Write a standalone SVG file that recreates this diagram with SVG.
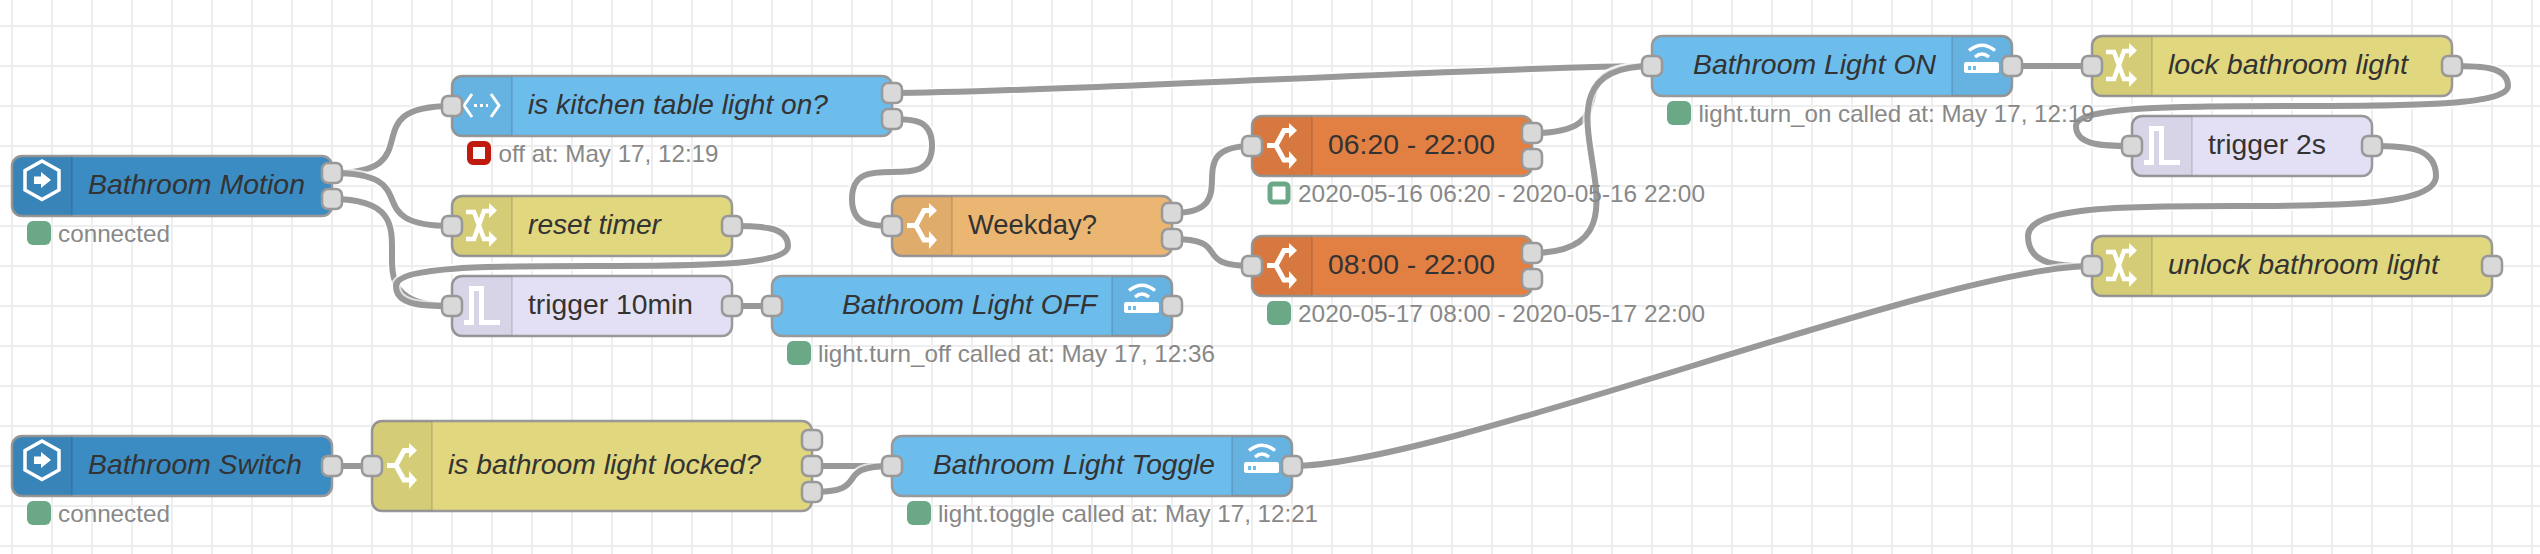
<svg xmlns="http://www.w3.org/2000/svg" width="2540" height="554" viewBox="0 0 2540 554">
<style>
.grid line{stroke:#eeeeee;stroke-width:2}
.o{fill:none;stroke:#fff;stroke-width:10;stroke-opacity:.7}
.l{fill:none;stroke:#999;stroke-width:6}
.n{stroke:#999;stroke-width:2.5}
.p{fill:#d9d9d9;stroke:#999;stroke-width:2.5}
.shade{fill:#000;fill-opacity:.05}
.sep{stroke:#000;stroke-opacity:.1;stroke-width:2}
.t{font-family:"Liberation Sans",Arial,sans-serif;font-size:28px;fill:#333}
.i{font-style:italic}
.s{font-family:"Liberation Sans",Arial,sans-serif;font-size:24px;fill:#888}
.ok{fill:#6aa888}
.ring{fill:#fff;stroke:#6aa888;stroke-width:5}
.red{fill:#fff;stroke:#c0190f;stroke-width:6}
.w{fill:none;stroke:#fff}
.f{fill:#fff}
.c1{fill:#3b8cc3}.c2{fill:#6cbcec}.c3{fill:#e0d77e}.c4{fill:#e3e0f5}.c5{fill:#ebb672}.c6{fill:#e27f43}
</style>
<defs>
<path id="shL" class="shade" d="M10 0H60V60H10Q0 60 0 50V10Q0 0 10 0Z"/>
<path id="shL90" class="shade" d="M10 0H60V90H10Q0 90 0 80V10Q0 0 10 0Z"/>
<g id="icHex"><path class="w" stroke-width="3.5" d="M30 5L47 14.500V34L30 43.500L13 34V14.500Z"/><path class="f" d="M22 20.500H29V16L39 24L29 32V28H22Z"/></g>
<g id="icApi"><path class="w" stroke-width="3" d="M20 18L12 29.500L20 41M39 18L47 29.500L39 41"/><path class="w" stroke-width="3" stroke-dasharray="3 3" d="M22 29.500H36"/></g>
<g id="icChange"><path class="w" stroke-width="4.500" d="M14 16H22L32 43H39M39 15H32L22 43H14"/><path class="f" d="M37 7L45 14.500L37 22ZM37 35L45 43L37 51Z"/></g>
<g id="icTrigger"><path class="w" stroke-width="5" d="M12 46.500H19.500V12.500H29.500V46.500H48"/></g>
<g id="icSwitch"><path class="w" stroke-width="5" d="M15 29.500H24L32 14.500H39M24 29.500L32 44H39"/><path class="f" d="M37 7L45 14.500L37 22ZM37 35L45 44L37 53Z"/></g>
<g id="icRouter"><path class="w" stroke-width="3.500" d="M19 14.500Q32 4 45 14.500M25 21Q32 15 39 21"/><path class="f" d="M16 26H47Q49 26 49 28V35Q49 37 47 37H16Q14 37 14 35V28Q14 26 16 26Z"/><path fill="#6cbcec" d="M18 30h3v4h-3zM23 30h3v4h-3z"/></g>
</defs>
<rect width="2540" height="554" fill="#fff"/>
<g class="grid">
<line x1="12" y1="0" x2="12" y2="554"/><line x1="52" y1="0" x2="52" y2="554"/><line x1="92" y1="0" x2="92" y2="554"/><line x1="132" y1="0" x2="132" y2="554"/><line x1="172" y1="0" x2="172" y2="554"/><line x1="212" y1="0" x2="212" y2="554"/><line x1="252" y1="0" x2="252" y2="554"/><line x1="292" y1="0" x2="292" y2="554"/><line x1="332" y1="0" x2="332" y2="554"/><line x1="372" y1="0" x2="372" y2="554"/><line x1="412" y1="0" x2="412" y2="554"/><line x1="452" y1="0" x2="452" y2="554"/><line x1="492" y1="0" x2="492" y2="554"/><line x1="532" y1="0" x2="532" y2="554"/><line x1="572" y1="0" x2="572" y2="554"/><line x1="612" y1="0" x2="612" y2="554"/><line x1="652" y1="0" x2="652" y2="554"/><line x1="692" y1="0" x2="692" y2="554"/><line x1="732" y1="0" x2="732" y2="554"/><line x1="772" y1="0" x2="772" y2="554"/><line x1="812" y1="0" x2="812" y2="554"/><line x1="852" y1="0" x2="852" y2="554"/><line x1="892" y1="0" x2="892" y2="554"/><line x1="932" y1="0" x2="932" y2="554"/><line x1="972" y1="0" x2="972" y2="554"/><line x1="1012" y1="0" x2="1012" y2="554"/><line x1="1052" y1="0" x2="1052" y2="554"/><line x1="1092" y1="0" x2="1092" y2="554"/><line x1="1132" y1="0" x2="1132" y2="554"/><line x1="1172" y1="0" x2="1172" y2="554"/><line x1="1212" y1="0" x2="1212" y2="554"/><line x1="1252" y1="0" x2="1252" y2="554"/><line x1="1292" y1="0" x2="1292" y2="554"/><line x1="1332" y1="0" x2="1332" y2="554"/><line x1="1372" y1="0" x2="1372" y2="554"/><line x1="1412" y1="0" x2="1412" y2="554"/><line x1="1452" y1="0" x2="1452" y2="554"/><line x1="1492" y1="0" x2="1492" y2="554"/><line x1="1532" y1="0" x2="1532" y2="554"/><line x1="1572" y1="0" x2="1572" y2="554"/><line x1="1612" y1="0" x2="1612" y2="554"/><line x1="1652" y1="0" x2="1652" y2="554"/><line x1="1692" y1="0" x2="1692" y2="554"/><line x1="1732" y1="0" x2="1732" y2="554"/><line x1="1772" y1="0" x2="1772" y2="554"/><line x1="1812" y1="0" x2="1812" y2="554"/><line x1="1852" y1="0" x2="1852" y2="554"/><line x1="1892" y1="0" x2="1892" y2="554"/><line x1="1932" y1="0" x2="1932" y2="554"/><line x1="1972" y1="0" x2="1972" y2="554"/><line x1="2012" y1="0" x2="2012" y2="554"/><line x1="2052" y1="0" x2="2052" y2="554"/><line x1="2092" y1="0" x2="2092" y2="554"/><line x1="2132" y1="0" x2="2132" y2="554"/><line x1="2172" y1="0" x2="2172" y2="554"/><line x1="2212" y1="0" x2="2212" y2="554"/><line x1="2252" y1="0" x2="2252" y2="554"/><line x1="2292" y1="0" x2="2292" y2="554"/><line x1="2332" y1="0" x2="2332" y2="554"/><line x1="2372" y1="0" x2="2372" y2="554"/><line x1="2412" y1="0" x2="2412" y2="554"/><line x1="2452" y1="0" x2="2452" y2="554"/><line x1="2492" y1="0" x2="2492" y2="554"/><line x1="2532" y1="0" x2="2532" y2="554"/>
<line x1="0" y1="26" x2="2540" y2="26"/><line x1="0" y1="66" x2="2540" y2="66"/><line x1="0" y1="106" x2="2540" y2="106"/><line x1="0" y1="146" x2="2540" y2="146"/><line x1="0" y1="186" x2="2540" y2="186"/><line x1="0" y1="226" x2="2540" y2="226"/><line x1="0" y1="266" x2="2540" y2="266"/><line x1="0" y1="306" x2="2540" y2="306"/><line x1="0" y1="346" x2="2540" y2="346"/><line x1="0" y1="386" x2="2540" y2="386"/><line x1="0" y1="426" x2="2540" y2="426"/><line x1="0" y1="466" x2="2540" y2="466"/><line x1="0" y1="506" x2="2540" y2="506"/><line x1="0" y1="546" x2="2540" y2="546"/>
</g>
<g id="connectors">
<g><path class="o" d="M332 173C435 173 349 106 452 106"/><path class="l" d="M332 173C435 173 349 106 452 106"/></g>
<g><path class="o" d="M332 173C430 173 354 226 452 226"/><path class="l" d="M332 173C430 173 354 226 452 226"/></g>
<g><path class="o" d="M332 199C453 199 331 306 452 306"/><path class="l" d="M332 199C453 199 331 306 452 306"/></g>
<g><path class="o" d="M732 226C760 226 788 226 788 246C788 266 690 266 592 266C494 266 396 266 396 286C396 306 424 306 452 306"/><path class="l" d="M732 226C760 226 788 226 788 246C788 266 690 266 592 266C494 266 396 266 396 286C396 306 424 306 452 306"/></g>
<g><path class="o" d="M732 306H772"/><path class="l" d="M732 306H772"/></g>
<g><path class="o" d="M892 93C1042 93 1502 66 1652 66"/><path class="l" d="M892 93C1042 93 1502 66 1652 66"/></g>
<g><path class="o" d="M892 119C912 119 932 119 932 145.500C932 172 912 172 892 172C872 172 852 172 852 199C852 226 872 226 892 226"/><path class="l" d="M892 119C912 119 932 119 932 145.500C932 172 912 172 892 172C872 172 852 172 852 199C852 226 872 226 892 226"/></g>
<g><path class="o" d="M1172 213C1250 213 1174 146 1252 146"/><path class="l" d="M1172 213C1250 213 1174 146 1252 146"/></g>
<g><path class="o" d="M1172 239C1235 239 1189 266 1252 266"/><path class="l" d="M1172 239C1235 239 1189 266 1252 266"/></g>
<g><path class="o" d="M1532 133C1635 133 1549 66 1652 66"/><path class="l" d="M1532 133C1635 133 1549 66 1652 66"/></g>
<g><path class="o" d="M1532 253C1682 253 1502 66 1652 66"/><path class="l" d="M1532 253C1682 253 1502 66 1652 66"/></g>
<g><path class="o" d="M2012 66H2092"/><path class="l" d="M2012 66H2092"/></g>
<g><path class="o" d="M2452 66C2480 66 2508 66 2508 86C2508 106 2400 106 2292 106C2184 106 2076 106 2076 126C2076 146 2104 146 2132 146"/><path class="l" d="M2452 66C2480 66 2508 66 2508 86C2508 106 2400 106 2292 106C2184 106 2076 106 2076 126C2076 146 2104 146 2132 146"/></g>
<g><path class="o" d="M2372 146C2404 146 2436 146 2436 176C2436 206 2334 206 2232 206C2130 206 2028 206 2028 236C2028 266 2060 266 2092 266"/><path class="l" d="M2372 146C2404 146 2436 146 2436 176C2436 206 2334 206 2232 206C2130 206 2028 206 2028 236C2028 266 2060 266 2092 266"/></g>
<g><path class="o" d="M1292 466C1442 466 1942 266 2092 266"/><path class="l" d="M1292 466C1442 466 1942 266 2092 266"/></g>
<g><path class="o" d="M332 466H372"/><path class="l" d="M332 466H372"/></g>
<g><path class="o" d="M812 466H892"/><path class="l" d="M812 466H892"/></g>
<g><path class="o" d="M812 492C875 492 829 466 892 466"/><path class="l" d="M812 492C875 492 829 466 892 466"/></g>
</g>
<g id="bathroom-motion" transform="translate(12,156)"><rect class="n c1" width="320" height="60" rx="10"/><use href="#shL"/><line class="sep" x1="60" y1="1" x2="60" y2="59"/><use href="#icHex"/><text class="t i" x="76" y="38" textLength="217" lengthAdjust="spacingAndGlyphs">Bathroom Motion</text><rect class="p" x="310" y="7" width="20" height="20" rx="6"/><rect class="p" x="310" y="33" width="20" height="20" rx="6"/><rect class="ok" x="15" y="65" width="24" height="24" rx="6"/><text class="s" x="46" y="85.500" textLength="112" lengthAdjust="spacingAndGlyphs">connected</text></g>
<g id="kitchen-light" transform="translate(452,76)"><rect class="n c2" width="440" height="60" rx="10"/><use href="#shL"/><line class="sep" x1="60" y1="1" x2="60" y2="59"/><use href="#icApi"/><text class="t i" x="76" y="38" textLength="300" lengthAdjust="spacingAndGlyphs">is kitchen table light on?</text><rect class="p" x="-10" y="20" width="20" height="20" rx="6"/><rect class="p" x="430" y="7" width="20" height="20" rx="6"/><rect class="p" x="430" y="33" width="20" height="20" rx="6"/><rect class="red" x="18" y="68" width="18" height="18" rx="3"/><text class="s" x="46.500" y="85.500" textLength="220" lengthAdjust="spacingAndGlyphs">off at: May 17, 12:19</text></g>
<g id="reset-timer" transform="translate(452,196)"><rect class="n c3" width="280" height="60" rx="10"/><use href="#shL"/><line class="sep" x1="60" y1="1" x2="60" y2="59"/><use href="#icChange"/><text class="t i" x="76" y="38" textLength="133" lengthAdjust="spacingAndGlyphs">reset timer</text><rect class="p" x="-10" y="20" width="20" height="20" rx="6"/><rect class="p" x="270" y="20" width="20" height="20" rx="6"/></g>
<g id="trigger-10min" transform="translate(452,276)"><rect class="n c4" width="280" height="60" rx="10"/><use href="#shL"/><line class="sep" x1="60" y1="1" x2="60" y2="59"/><use href="#icTrigger"/><text class="t" x="76" y="38" textLength="165" lengthAdjust="spacingAndGlyphs">trigger 10min</text><rect class="p" x="-10" y="20" width="20" height="20" rx="6"/><rect class="p" x="270" y="20" width="20" height="20" rx="6"/></g>
<g id="light-off" transform="translate(772,276)"><rect class="n c2" width="400" height="60" rx="10"/><path class="shade" d="M340 0H390Q400 0 400 10V50Q400 60 390 60H340Z"/><line class="sep" x1="340" y1="1" x2="340" y2="59"/><use href="#icRouter" x="338"/><text class="t i" x="70" y="38" textLength="255" lengthAdjust="spacingAndGlyphs">Bathroom Light OFF</text><rect class="p" x="-10" y="20" width="20" height="20" rx="6"/><rect class="p" x="390" y="20" width="20" height="20" rx="6"/><rect class="ok" x="15" y="65" width="24" height="24" rx="6"/><text class="s" x="46" y="85.500" textLength="397" lengthAdjust="spacingAndGlyphs">light.turn_off called at: May 17, 12:36</text></g>
<g id="weekday" transform="translate(892,196)"><rect class="n c5" width="280" height="60" rx="10"/><use href="#shL"/><line class="sep" x1="60" y1="1" x2="60" y2="59"/><use href="#icSwitch"/><text class="t" x="76" y="38" textLength="129" lengthAdjust="spacingAndGlyphs">Weekday?</text><rect class="p" x="-10" y="20" width="20" height="20" rx="6"/><rect class="p" x="270" y="7" width="20" height="20" rx="6"/><rect class="p" x="270" y="33" width="20" height="20" rx="6"/></g>
<g id="time-0620" transform="translate(1252,116)"><rect class="n c6" width="280" height="60" rx="10"/><use href="#shL"/><line class="sep" x1="60" y1="1" x2="60" y2="59"/><use href="#icSwitch"/><text class="t" x="76" y="38" textLength="167" lengthAdjust="spacingAndGlyphs">06:20 - 22:00</text><rect class="p" x="-10" y="20" width="20" height="20" rx="6"/><rect class="p" x="270" y="7" width="20" height="20" rx="6"/><rect class="p" x="270" y="33" width="20" height="20" rx="6"/><rect class="ring" x="18" y="68" width="18" height="18" rx="3"/><text class="s" x="46" y="85.500" textLength="407" lengthAdjust="spacingAndGlyphs">2020-05-16 06:20 - 2020-05-16 22:00</text></g>
<g id="time-0800" transform="translate(1252,236)"><rect class="n c6" width="280" height="60" rx="10"/><use href="#shL"/><line class="sep" x1="60" y1="1" x2="60" y2="59"/><use href="#icSwitch"/><text class="t" x="76" y="38" textLength="167" lengthAdjust="spacingAndGlyphs">08:00 - 22:00</text><rect class="p" x="-10" y="20" width="20" height="20" rx="6"/><rect class="p" x="270" y="7" width="20" height="20" rx="6"/><rect class="p" x="270" y="33" width="20" height="20" rx="6"/><rect class="ok" x="15" y="65" width="24" height="24" rx="6"/><text class="s" x="46" y="85.500" textLength="407" lengthAdjust="spacingAndGlyphs">2020-05-17 08:00 - 2020-05-17 22:00</text></g>
<g id="light-on" transform="translate(1652,36)"><rect class="n c2" width="360" height="60" rx="10"/><path class="shade" d="M300 0H350Q360 0 360 10V50Q360 60 350 60H300Z"/><line class="sep" x1="300" y1="1" x2="300" y2="59"/><use href="#icRouter" x="298"/><text class="t i" x="41" y="38" textLength="243" lengthAdjust="spacingAndGlyphs">Bathroom Light ON</text><rect class="p" x="-10" y="20" width="20" height="20" rx="6"/><rect class="p" x="350" y="20" width="20" height="20" rx="6"/><rect class="ok" x="15" y="65" width="24" height="24" rx="6"/><text class="s" x="46.500" y="85.500" textLength="396" lengthAdjust="spacingAndGlyphs">light.turn_on called at: May 17, 12:19</text></g>
<g id="lock-light" transform="translate(2092,36)"><rect class="n c3" width="360" height="60" rx="10"/><use href="#shL"/><line class="sep" x1="60" y1="1" x2="60" y2="59"/><use href="#icChange"/><text class="t i" x="76" y="38" textLength="240" lengthAdjust="spacingAndGlyphs">lock bathroom light</text><rect class="p" x="-10" y="20" width="20" height="20" rx="6"/><rect class="p" x="350" y="20" width="20" height="20" rx="6"/></g>
<g id="trigger-2s" transform="translate(2132,116)"><rect class="n c4" width="240" height="60" rx="10"/><use href="#shL"/><line class="sep" x1="60" y1="1" x2="60" y2="59"/><use href="#icTrigger"/><text class="t" x="76" y="38" textLength="118" lengthAdjust="spacingAndGlyphs">trigger 2s</text><rect class="p" x="-10" y="20" width="20" height="20" rx="6"/><rect class="p" x="230" y="20" width="20" height="20" rx="6"/></g>
<g id="unlock-light" transform="translate(2092,236)"><rect class="n c3" width="400" height="60" rx="10"/><use href="#shL"/><line class="sep" x1="60" y1="1" x2="60" y2="59"/><use href="#icChange"/><text class="t i" x="76" y="38" textLength="271" lengthAdjust="spacingAndGlyphs">unlock bathroom light</text><rect class="p" x="-10" y="20" width="20" height="20" rx="6"/><rect class="p" x="390" y="20" width="20" height="20" rx="6"/></g>
<g id="bathroom-switch" transform="translate(12,436)"><rect class="n c1" width="320" height="60" rx="10"/><use href="#shL"/><line class="sep" x1="60" y1="1" x2="60" y2="59"/><use href="#icHex"/><text class="t i" x="76" y="38" textLength="214" lengthAdjust="spacingAndGlyphs">Bathroom Switch</text><rect class="p" x="310" y="20" width="20" height="20" rx="6"/><rect class="ok" x="15" y="65" width="24" height="24" rx="6"/><text class="s" x="46" y="85.500" textLength="112" lengthAdjust="spacingAndGlyphs">connected</text></g>
<g id="locked-switch" transform="translate(372,421)"><rect class="n c3" width="440" height="90" rx="10"/><use href="#shL90"/><line class="sep" x1="60" y1="1" x2="60" y2="89"/><use href="#icSwitch" y="15"/><text class="t i" x="76" y="53" textLength="313" lengthAdjust="spacingAndGlyphs">is bathroom light locked?</text><rect class="p" x="-10" y="35" width="20" height="20" rx="6"/><rect class="p" x="430" y="9" width="20" height="20" rx="6"/><rect class="p" x="430" y="35" width="20" height="20" rx="6"/><rect class="p" x="430" y="61" width="20" height="20" rx="6"/></g>
<g id="light-toggle" transform="translate(892,436)"><rect class="n c2" width="400" height="60" rx="10"/><path class="shade" d="M340 0H390Q400 0 400 10V50Q400 60 390 60H340Z"/><line class="sep" x1="340" y1="1" x2="340" y2="59"/><use href="#icRouter" x="338"/><text class="t i" x="41" y="38" textLength="282" lengthAdjust="spacingAndGlyphs">Bathroom Light Toggle</text><rect class="p" x="-10" y="20" width="20" height="20" rx="6"/><rect class="p" x="390" y="20" width="20" height="20" rx="6"/><rect class="ok" x="15" y="65" width="24" height="24" rx="6"/><text class="s" x="46" y="85.500" textLength="380" lengthAdjust="spacingAndGlyphs">light.toggle called at: May 17, 12:21</text></g>
</svg>
